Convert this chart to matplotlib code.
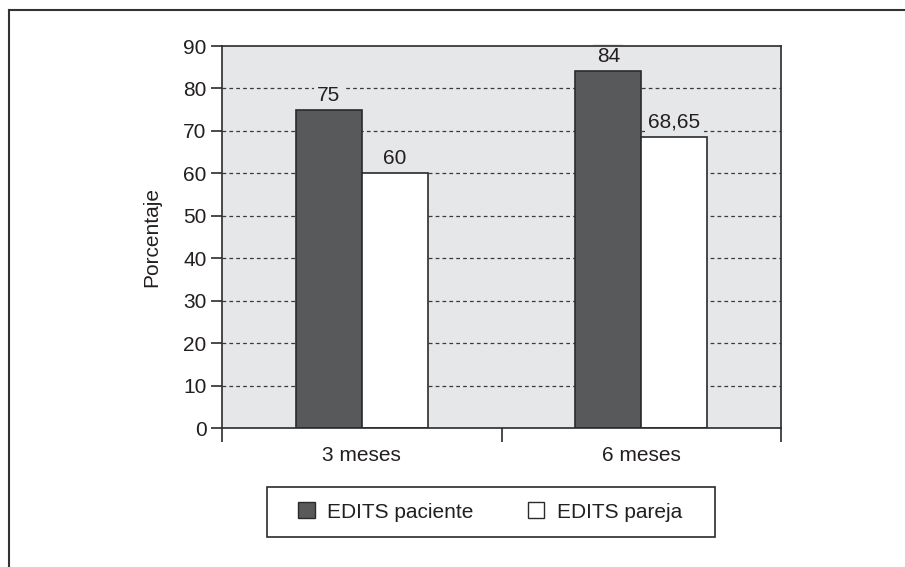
import matplotlib
matplotlib.use("Agg")
import matplotlib.pyplot as plt
from matplotlib.lines import Line2D
from matplotlib.patches import Patch, Rectangle
import numpy as np

plt.rcParams['font.family'] = ['Liberation Sans', 'DejaVu Sans']

categories = ["3 meses", "6 meses"]
series_names = ["EDITS paciente", "EDITS pareja"]
paciente = [75, 84]
pareja = [60, 68.65]
value_labels_paciente = ["75", "84"]
value_labels_pareja = ["60", "68,65"]
yticks = [0, 10, 20, 30, 40, 50, 60, 70, 80, 90]

W, H = 905, 567
FS = 15
fig = plt.figure(figsize=(W / 100, H / 100), dpi=100)
ax = fig.add_axes([222 / W, 1 - 428 / H, (781 - 222) / W, (428 - 46) / H])

edge = "#2b2b2b"
dark = "#58595b"
bg = "#e6e7e8"
txt = "#231f20"
ax.set_facecolor(bg)

x = np.arange(len(categories))
bw = 0.236
b1 = ax.bar(x - bw / 2, paciente, bw, color=dark, edgecolor=edge, linewidth=1.2, zorder=3)
b2 = ax.bar(x + bw / 2, pareja, bw, color="white", edgecolor=edge, linewidth=1.2, zorder=3)

for bars, labs in ((b1, value_labels_paciente), (b2, value_labels_pareja)):
    for rect, lab in zip(bars, labs):
        ax.text(rect.get_x() + rect.get_width() / 2, rect.get_height() + 1.2, lab,
                ha="center", va="bottom", fontsize=FS, color=txt, zorder=2.5,
                bbox=dict(facecolor=bg, edgecolor="none", pad=2.5))

ax.set_xlim(-0.5, 1.5)
ax.set_ylim(0, 90)
ax.set_yticks(yticks)
ax.set_yticklabels([str(t) for t in yticks], fontsize=FS, color=txt)
ax.tick_params(axis="y", direction="out", length=8, width=1.2, color=edge, pad=3)

ax.set_xticks(x)
ax.set_xticklabels(categories, fontsize=FS, color=txt)
ax.tick_params(axis="x", which="major", length=0, pad=13)
ax.set_xticks([-0.5, 0.5, 1.5], minor=True)
ax.tick_params(axis="x", which="minor", direction="out", length=10, width=1.2, color=edge)

for t in yticks[1:-1]:
    ax.axhline(t, color="#3a3a3a", linestyle=(0, (3, 2.5)), linewidth=0.9, zorder=1)

for s in ax.spines.values():
    s.set_color(edge)
    s.set_linewidth(1.2)
    s.set_zorder(5)

ax.set_ylabel("Porcentaje", fontsize=FS, color=txt, labelpad=16)

handles = [Patch(facecolor=dark, edgecolor=edge, linewidth=1.0, label=series_names[0]),
           Patch(facecolor="white", edgecolor=edge, linewidth=1.0, label=series_names[1])]
leg = fig.legend(handles=handles, loc="center", bbox_to_anchor=(490 / W, 1 - 512 / H),
                 ncol=2, fontsize=FS, frameon=False, handlelength=0.8,
                 handleheight=0.8, handletextpad=0.6, columnspacing=2.6,
                 borderpad=0.7, borderaxespad=0)
for t in leg.get_texts():
    t.set_color(txt)

# legend frame box
fig.add_artist(Rectangle((267 / W, 1 - 537 / H), (715 - 267) / W, 50 / H,
                         transform=fig.transFigure, facecolor="none",
                         edgecolor=edge, linewidth=1.2))

# outer frame (left and top lines)
fig.add_artist(Line2D([8.5 / W, 8.5 / W], [0, 1 - 9.5 / H], color="#333333", linewidth=1.5,
                      transform=fig.transFigure))
fig.add_artist(Line2D([8.5 / W, 1], [1 - 9.5 / H, 1 - 9.5 / H], color="#333333", linewidth=1.5,
                      transform=fig.transFigure))

fig.savefig("out.png", dpi=100)
